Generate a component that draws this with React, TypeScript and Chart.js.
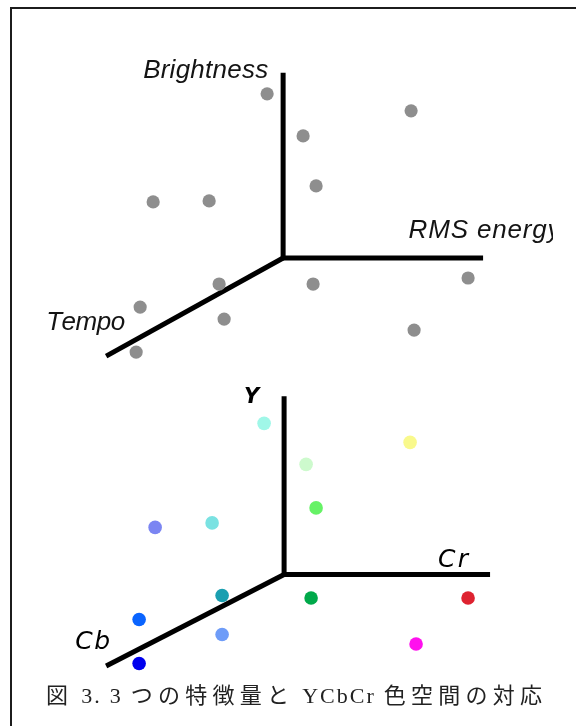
import React, { useEffect, useRef } from 'react';
import { Chart, registerables } from 'chart.js';

Chart.register(...registerables);

const W = 576;
const H = 726;

// ---- Top diagram: music features (diagram units, origin at axis crossing) ----
const featureLabels = ['Brightness', 'RMS energy', 'Tempo'];
const featureAxisX = [0, 0, 20.0];
const featureAxisY = [18.5, 0, 0];
const featureDiagX = [0, -17.7];
const featureDiagY = [0, -9.8];
const songX = [-1.6, 12.8, 2.0, 3.3, -13.0, -7.4, -6.4, 3.0, 18.5, -14.3, -5.9, 13.1, -14.7];
const songY = [16.4, 14.7, 12.2, 7.2, 5.6, 5.7, -2.6, -2.6, -2.0, -4.9, -6.1, -7.2, -9.4];

// ---- Bottom diagram: YCbCr colour space ----
const colorLabels = ['Y', 'Cr', 'Cb'];
const colorAxisX = [0, 0, 20.6];
const colorAxisY = [17.8, 0, 0];
const colorDiagX = [0, -17.8];
const colorDiagY = [0, -9.15];
const colorPtX = [-2.0, 12.6, 2.2, 3.2, -12.9, -7.2, -6.2, 2.7, 18.4, -14.5, -6.2, 13.2, -14.5];
const colorPtY = [15.1, 13.2, 11.0, 6.65, 4.7, 5.15, -2.1, -2.35, -2.35, -4.5, -6.0, -6.95, -8.9];
const colorPtFill = [
  '#a0f7e8', '#f9f98c', '#cdfacd', '#66f266', '#7b85f2', '#7ae2e2', '#1a9fb0',
  '#00a94a', '#de2230', '#0a64ff', '#6e9cf8', '#ff10ee', '#0000ee',
];

const caption = '図 3. 3 つの特徴量と YCbCr 色空間の対応';

// layout: where each diagram's origin sits on the page and its unit size
const TOP = { ox: 283, oy: 256, kx: 10.24, ky: 10.2 };
const BOT = { ox: 284, oy: 578.5, kx: 10.24, ky: 10.2 };
const xRange = (d: typeof TOP) => ({ min: -d.ox / d.kx, max: (W - d.ox) / d.kx });
const yRange = (d: typeof TOP) => ({ min: (d.oy - H) / d.ky, max: d.oy / d.ky });

const zip = (xs: number[], ys: number[]) => xs.map((x, i) => ({ x, y: ys[i] }));

function drawSpaced(ctx: CanvasRenderingContext2D, text: string, x: number, y: number, target: number) {
  const chars = Array.from(text);
  const widths = chars.map((c) => ctx.measureText(c).width);
  const total = widths.reduce((a, b) => a + b, 0);
  const sp = chars.length > 1 ? (target - total) / (chars.length - 1) : 0;
  let cx = x;
  chars.forEach((c, i) => {
    ctx.fillText(c, cx, y);
    cx += widths[i] + sp;
  });
}

// caption: wide tracking for CJK glyphs, tight for Latin, fitted to a target width
function drawCaption(ctx: CanvasRenderingContext2D, text: string, x: number, y: number, target: number) {
  const chars = Array.from(text);
  const isCJK = (c: string) => /[\u3000-\u9fff\uff00-\uffef]/.test(c);
  const latinSp = 2;
  const spaceAdv = 8;
  const widths = chars.map((c) => (c === ' ' ? spaceAdv : ctx.measureText(c).width));
  const nCjkGaps = chars.slice(0, -1).filter(isCJK).length;
  const nLatGaps = chars.slice(0, -1).filter((c) => c !== ' ' && !isCJK(c)).length;
  const base = widths.reduce((a, b) => a + b, 0) + nLatGaps * latinSp;
  const cjkSp = nCjkGaps ? (target - base) / nCjkGaps : 0;
  let cx = x;
  chars.forEach((c, i) => {
    if (c !== ' ') ctx.fillText(c, cx, y);
    cx += widths[i] + (c === ' ' ? 0 : isCJK(c) ? cjkSp : latinSp);
  });
}

const overlay = {
  id: 'overlay',
  afterDraw(chart: any) {
    const ctx: CanvasRenderingContext2D = chart.ctx;
    const s = chart.scales;
    const px = (sx: string, v: number) => s[sx].getPixelForValue(v);
    ctx.save();
    // frame
    ctx.fillStyle = '#1c1c1c';
    ctx.fillRect(10, 7, W - 10, 2);
    ctx.fillRect(10, 7, 2, H - 7);

    ctx.fillStyle = '#141414';
    ctx.textBaseline = 'alphabetic';
    ctx.textAlign = 'left';
    // top axis labels
    ctx.font = 'italic 26px "Liberation Sans", Arial, sans-serif';
    drawSpaced(ctx, featureLabels[0], px('xt', -14.0), px('yt', 18.0), 125);
    ctx.save();
    ctx.beginPath();
    ctx.rect(0, 0, 553, H);
    ctx.clip();
    drawSpaced(ctx, featureLabels[1], px('xt', 12.55), px('yt', 2.0), 152);
    ctx.restore();
    drawSpaced(ctx, featureLabels[2], px('xt', -23.7), px('yt', -7.2), 79);

    // bottom axis labels
    ctx.fillStyle = '#000';
    ctx.font = 'italic bold 21px "DejaVu Sans", sans-serif';
    drawSpaced(ctx, colorLabels[0], px('xb', -4.0), px('yb', 17.15), 17);
    ctx.font = 'italic 25px "DejaVu Sans", sans-serif';
    drawSpaced(ctx, colorLabels[1], px('xb', 15.4), px('yb', 0.75), 30);
    drawSpaced(ctx, colorLabels[2], px('xb', -20.9), px('yb', -7.45), 35);

    // caption
    ctx.fillStyle = '#222';
    ctx.font = '22px "Liberation Serif", "Noto Sans CJK JP", serif';
    drawCaption(ctx, caption, 46, 703, 496);
    ctx.restore();
  },
};

export default function App() {
  const ref = useRef<HTMLCanvasElement | null>(null);
  useEffect(() => {
    if (!ref.current) return;
    const axisStyle = {
      type: 'scatter' as const,
      showLine: true,
      borderColor: '#000',
      borderWidth: 5,
      pointRadius: 0,
      pointHoverRadius: 0,
      borderCapStyle: 'butt' as const,
      borderJoinStyle: 'miter' as const,
      fill: false,
      order: 2,
      clip: false as any,
    };
    const chart = new Chart(ref.current, {
      type: 'scatter',
      data: {
        datasets: [
          { ...axisStyle, data: zip(featureAxisX, featureAxisY), xAxisID: 'xt', yAxisID: 'yt' },
          { ...axisStyle, data: zip(featureDiagX, featureDiagY), xAxisID: 'xt', yAxisID: 'yt' },
          { ...axisStyle, data: zip(colorAxisX, colorAxisY), xAxisID: 'xb', yAxisID: 'yb' },
          { ...axisStyle, data: zip(colorDiagX, colorDiagY), xAxisID: 'xb', yAxisID: 'yb' },
          {
            data: zip(songX, songY),
            xAxisID: 'xt',
            yAxisID: 'yt',
            backgroundColor: '#8e8e8e',
            borderWidth: 0,
            pointRadius: 6.6,
            order: 1,
            clip: false as any,
          },
          {
            data: zip(colorPtX, colorPtY),
            xAxisID: 'xb',
            yAxisID: 'yb',
            backgroundColor: colorPtFill,
            borderWidth: 0,
            pointRadius: 6.8,
            order: 1,
            clip: false as any,
          },
        ] as any,
      },
      options: {
        responsive: false,
        animation: false,
        devicePixelRatio: window.devicePixelRatio || 1,
        layout: { padding: 0 },
        events: [],
        plugins: { legend: { display: false }, tooltip: { enabled: false }, title: { display: false } },
        scales: {
          xt: { type: 'linear', display: false, ...xRange(TOP), axis: 'x' } as any,
          yt: { type: 'linear', display: false, ...yRange(TOP), axis: 'y' } as any,
          xb: { type: 'linear', display: false, ...xRange(BOT), axis: 'x' } as any,
          yb: { type: 'linear', display: false, ...yRange(BOT), axis: 'y' } as any,
        },
      },
      plugins: [overlay],
    });
    return () => chart.destroy();
  }, []);
  return (
    <div style={{ position: 'absolute', left: 0, top: 0, width: W, height: H, background: '#fff' }}>
      <canvas ref={ref} width={W} height={H} style={{ display: 'block', width: W, height: H }} />
    </div>
  );
}
